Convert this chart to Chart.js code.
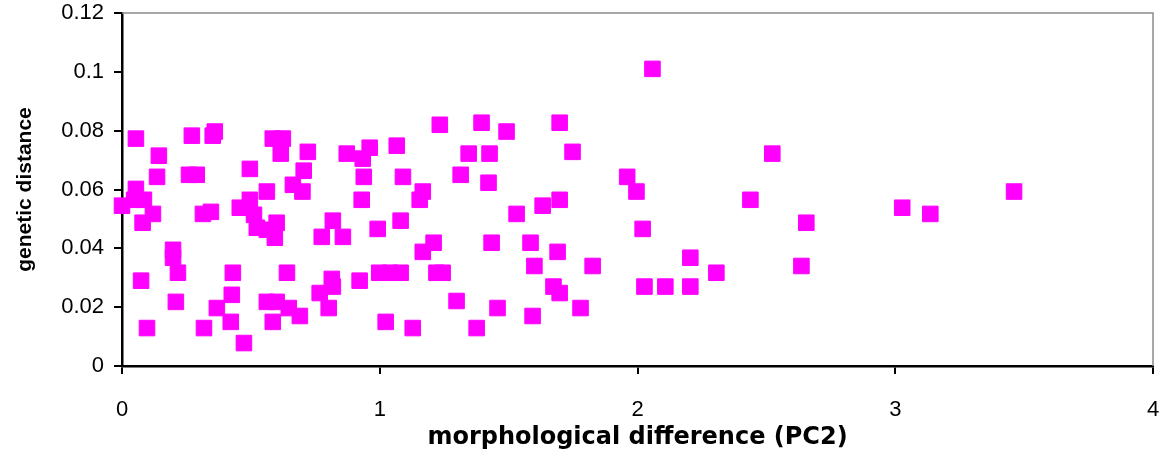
<!DOCTYPE html>
<html>
<head>
<meta charset="utf-8">
<script src="https://cdn.jsdelivr.net/npm/chart.js@4/dist/chart.umd.min.js"></script>
<style>
  html, body { margin: 0; padding: 0; background: #fff; }
  #wrap { width: 1166px; height: 458px; position: relative; }
</style>
</head>
<body>
<div id="wrap"><canvas id="c" width="1166" height="458"></canvas></div>
<script>
// morphological difference (PC2)
const xValues = [
  0.00, 0.054, 0.143, 0.136, 0.054, 0.047, 0.085, 0.12, 0.08, 0.271,
  0.36, 0.352, 0.26, 0.29, 0.496, 0.585, 0.624, 0.616, 0.562, 0.496,
  0.457, 0.512, 0.60, 0.523, 0.562, 0.593, 0.663, 0.70, 0.314, 0.345,
  0.198, 0.198, 0.217, 0.074, 0.209, 0.097, 0.318, 0.368, 0.426, 0.43,
  0.422, 0.473, 0.562, 0.60, 0.647, 0.69, 0.585, 0.64, 0.767, 0.818,
  0.814, 0.802, 0.775, 0.818, 0.857, 0.922, 0.992, 0.93, 1.023, 0.998,
  1.04, 1.081, 0.721, 0.705, 0.872, 0.961, 0.934, 1.066, 0.938, 1.09,
  1.167, 1.155, 1.233, 1.395, 1.345, 1.314, 1.426, 1.422, 1.081, 1.209,
  1.167, 1.434, 1.22, 1.244, 1.298, 1.128, 1.376, 1.492, 1.698, 1.748,
  1.96, 1.996, 1.698, 1.632, 1.531, 2.02, 1.585, 1.69, 1.60, 1.826,
  1.674, 1.698, 2.027, 2.108, 1.457, 1.593, 1.779, 2.058, 2.523, 2.438,
  2.655, 3.027, 3.136, 3.461, 2.205, 2.306, 2.636, 2.205
];
// genetic distance
const yValues = [
  0.0545, 0.0773, 0.0715, 0.0643, 0.0602, 0.0565, 0.0565, 0.0517, 0.0487, 0.0783,
  0.0797, 0.0783, 0.065, 0.065, 0.067, 0.0773, 0.0773, 0.0722, 0.0593, 0.0565,
  0.0538, 0.0514, 0.0487, 0.047, 0.0463, 0.0436, 0.0616, 0.0593, 0.0517, 0.0524,
  0.0395, 0.0368, 0.0317, 0.029, 0.0218, 0.0129, 0.0129, 0.0197, 0.0242, 0.0317,
  0.015, 0.0078, 0.0218, 0.0218, 0.0197, 0.017, 0.015, 0.0317, 0.0248, 0.027,
  0.0296, 0.0197, 0.0439, 0.0494, 0.0439, 0.029, 0.0466, 0.0565, 0.015, 0.0317,
  0.0317, 0.0317, 0.0728, 0.0664, 0.0722, 0.0742, 0.0705, 0.0749, 0.0643, 0.0643,
  0.0593, 0.0565, 0.082, 0.0827, 0.0722, 0.065, 0.0722, 0.0623, 0.0494, 0.0419,
  0.0388, 0.0419, 0.0317, 0.0317, 0.0221, 0.0129, 0.0129, 0.0797, 0.0827, 0.0728,
  0.0643, 0.0593, 0.0565, 0.0545, 0.0517, 0.0466, 0.0419, 0.0388, 0.034, 0.034,
  0.027, 0.0248, 0.027, 0.027, 0.0197, 0.017, 0.0197, 0.101, 0.0722, 0.0565,
  0.0487, 0.0538, 0.0517, 0.0593, 0.0368, 0.0317, 0.034, 0.027
];
const xTickValues = [0, 1, 2, 3, 4];
const xTickLabels = ['0', '1', '2', '3', '4'];
const yTickValues = [0, 0.02, 0.04, 0.06, 0.08, 0.1, 0.12];
const yTickLabels = ['0', '0.02', '0.04', '0.06', '0.08', '0.1', '0.12'];
const xTitle = 'morphological difference (PC2)';
const yTitle = 'genetic distance';

const points = xValues.map((x, i) => ({ x: x, y: yValues[i] }));

const framePlugin = {
  id: 'frame',
  beforeDatasetsDraw(chart) {
    const { ctx, chartArea: a } = chart;
    ctx.save();
    ctx.strokeStyle = '#8c8c8c';
    ctx.lineWidth = 1.5;
    ctx.beginPath();
    ctx.moveTo(a.left, a.top);
    ctx.lineTo(a.right, a.top);
    ctx.lineTo(a.right, a.bottom);
    ctx.stroke();
    ctx.restore();
  }
};

new Chart(document.getElementById('c'), {
  type: 'scatter',
  data: {
    datasets: [{
      data: points,
      pointStyle: 'rect',
      pointRadius: 11,
      pointHoverRadius: 11,
      backgroundColor: '#ff00ff',
      borderColor: '#ff00ff',
      borderWidth: 1,
      clip: false
    }]
  },
  options: {
    responsive: false,
    animation: false,
    devicePixelRatio: 1,
    layout: { autoPadding: false, padding: { left: 0, top: 13, right: 13, bottom: 0 } },
    plugins: { legend: { display: false }, tooltip: { enabled: false } },
    scales: {
      x: {
        type: 'linear',
        min: 0, max: 4,
        afterBuildTicks(scale) { scale.ticks = xTickValues.map(v => ({ value: v })); },
        afterFit(scale) { scale.height = 92; scale.paddingLeft = 0; scale.paddingRight = 0; },
        ticks: {
          callback(value) { const i = xTickValues.indexOf(value); return i >= 0 ? xTickLabels[i] : ''; },
          color: '#000',
          font: { family: "'Liberation Sans', Arial, sans-serif", size: 22 },
          padding: 23,
          maxRotation: 0
        },
        grid: { display: true, drawOnChartArea: false, drawTicks: true, tickLength: 8, color: '#000', lineWidth: 2 },
        border: { display: true, color: '#000', width: 2.5 },
        title: {
          display: true, text: xTitle, color: '#000',
          font: { family: "'DejaVu Sans'", size: 24, weight: 'bold' },
          padding: { top: 0, bottom: 6 }
        }
      },
      y: {
        type: 'linear',
        min: 0, max: 0.12,
        afterBuildTicks(scale) { scale.ticks = yTickValues.map(v => ({ value: v })); },
        afterFit(scale) { scale.width = 122; scale.paddingTop = 0; scale.paddingBottom = 0; },
        ticks: {
          callback(value) {
            const i = yTickValues.findIndex(v => Math.abs(v - value) < 1e-9);
            return i >= 0 ? yTickLabels[i] : '';
          },
          color: '#000',
          font: { family: "'Liberation Sans', Arial, sans-serif", size: 22 },
          padding: 10
        },
        grid: { display: true, drawOnChartArea: false, drawTicks: true, tickLength: 8, color: '#000', lineWidth: 2 },
        border: { display: true, color: '#000', width: 2.5 },
        title: {
          display: true, text: yTitle, color: '#000',
          font: { family: "'Liberation Sans', Arial, sans-serif", size: 21, weight: 'bold' },
          padding: { top: 13, bottom: 0 }
        }
      }
    }
  },
  plugins: [framePlugin]
});
</script>
</body>
</html>
